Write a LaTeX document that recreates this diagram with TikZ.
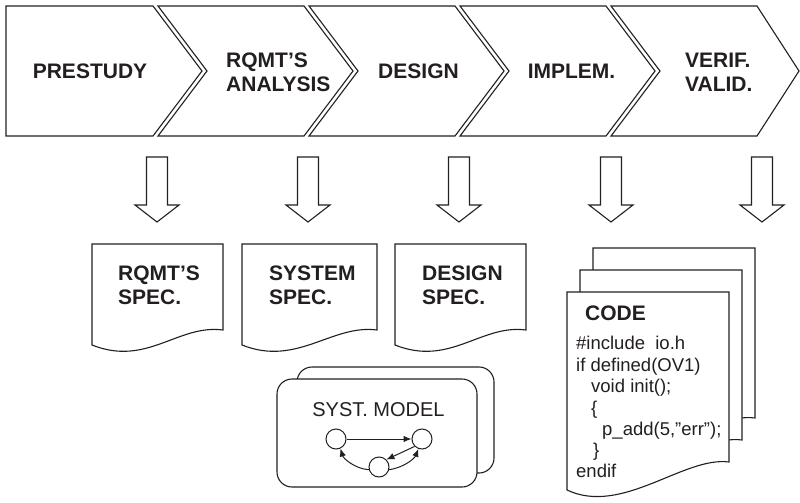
\documentclass[tikz,border=0pt]{standalone}
\usepackage{fontspec}
\setmainfont{Liberation Sans}
\usetikzlibrary{arrows.meta}
\definecolor{ink}{HTML}{231F20}

% sheet of paper with a wavy lower edge: left, top, right, right-bottom, left-bottom, dip
\newcommand\docpage[6]{%
  \draw[outline] (#1,#2) -- (#3,#2) -- (#3,#4)
    .. controls (#3-45,#4-6) and (#1+55,#6) .. (#1,#5) -- cycle;}
% hollow block arrow pointing down, centred on x = #1
\newcommand\hollowdown[1]{%
  \draw[outline] (#1-10.5,157) -- (#1+10.5,157) -- (#1+10.5,205) -- (#1+22,205)
    -- (#1,222) -- (#1-22,205) -- (#1-10.5,205) -- cycle;}

\begin{document}
\begin{tikzpicture}[x=1pt,y=-1pt,
  outline/.style={draw=ink, line width=1.1pt, line join=miter, fill=white},
  head/.style={font=\fontsize{21}{24}\selectfont\bfseries, text=ink, inner sep=0pt, align=left},
  codeline/.style={font=\fontsize{18.5}{21}\selectfont, text=ink, inner sep=0pt, anchor=base west},
  state/.style={circle, draw=ink, line width=1pt, fill=white, minimum size=20pt, inner sep=0pt},
  flow/.style={draw=ink, line width=1pt, -{Latex[length=8pt,width=6.5pt]}}]
\useasboundingbox (0,0) rectangle (800,503);

% phase chevrons
\draw[outline] (6,6) -- (153,6) -- (202,71) -- (153,136) -- (6,136) -- cycle;
\draw[outline] (158,6) -- (304,6) -- (353,71) -- (304,136) -- (158,136) -- (207,71) -- cycle;
\draw[outline] (309,6) -- (455,6) -- (504,71) -- (455,136) -- (309,136) -- (358,71) -- cycle;
\draw[outline] (460,6) -- (606,6) -- (655,71) -- (606,136) -- (460,136) -- (509,71) -- cycle;
\draw[outline] (611,6) -- (757,6) -- (799,71) -- (757,136) -- (611,136) -- (660,71) -- cycle;

\node[head] (prestudy) at (90,71.5) {PRESTUDY};
\node[head, anchor=west] (analysis) at (226,72) {RQMT’S\\ANALYSIS};
\node[head] (design) at (418.5,71.5) {DESIGN};
\node[head] (implem) at (571.5,71.5) {IMPLEM.};
\node[head, anchor=west] (verif) at (685,72) {VERIF.\\VALID.};

% outputs of each phase
\hollowdown{157}
\hollowdown{308}
\hollowdown{459}
\hollowdown{611}
\hollowdown{762}

% specification documents
\docpage{92}{244}{223}{330}{345}{367}
\docpage{242}{244}{377}{330}{345}{367}
\docpage{395}{244}{526}{330}{345}{367}
\node[head, anchor=west] (rspec) at (118,285) {RQMT’S\\SPEC.};
\node[head, anchor=west] (sspec) at (269,285) {SYSTEM\\SPEC.};
\node[head, anchor=west] (dspec) at (422,285) {DESIGN\\SPEC.};

% stack of code listings
\docpage{593}{248}{755}{418}{446}{471}
\docpage{580}{270}{742}{440}{468}{493}
\docpage{567}{292}{729}{462}{490}{516}
\node[head, anchor=west] (codetitle) at (585,313) {CODE};
\node[codeline] (c1) at (576,349) {\#include\ \ io.h};
\node[codeline] (c2) at (576,371) {if defined(OV1)};
\node[codeline] (c3) at (591,392.5) {void init();};
\node[codeline] (c4) at (591,414) {\{};
\node[codeline] (c5) at (602,435) {p\_add(5,”err”);};
\node[codeline] (c6) at (593,456.5) {\}};
\node[codeline] (c7) at (576,477) {endif};

% system model cards
\draw[outline, rounded corners=15pt] (297,367) rectangle (494,473);
\draw[outline, rounded corners=15pt] (277,379) rectangle (477,487);
\node[font=\fontsize{20}{24}\selectfont, text=ink, inner sep=0pt] (modeltitle) at (378.5,410) {SYST. MODEL};
\node[state] (ml) at (336,439) {};
\node[state] (mr) at (422,439) {};
\node[state] (mb) at (379,467) {};
\draw[flow] (ml) -- (mr);
\draw[flow] (mr.225) -- (mb.45);
\draw[flow] (mb.195) .. controls +(-14,-1) and +(3,10) .. (ml.-65);
\draw[flow] (mb.-15) .. controls +(14,-2) and +(-4,10) .. (mr.-110);
\end{tikzpicture}
\end{document}
